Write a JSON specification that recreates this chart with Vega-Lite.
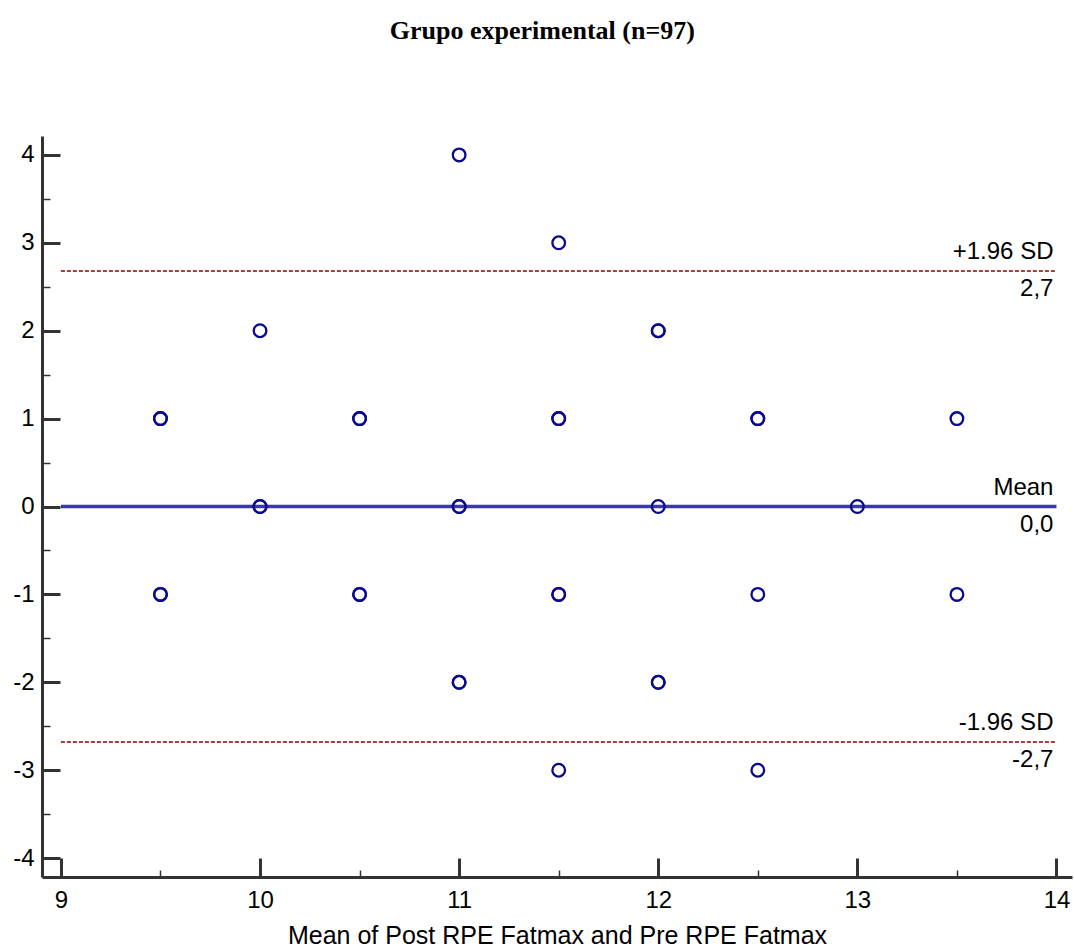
{
  "$schema": "https://vega.github.io/schema/vega-lite/v6.json",
  "width": 1030,
  "height": 741,
  "autosize": {"type": "none"},
  "padding": {"left": 42, "top": 136, "right": 2, "bottom": 72},
  "title": {
    "text": "Grupo experimental (n=97)",
    "font": "Liberation Serif",
    "fontSize": 26,
    "fontWeight": "bold",
    "color": "#000000",
    "anchor": "middle",
    "frame": "bounds",
    "offset": 92
  },
  "config": {
    "view": {"stroke": null},
    "font": "Liberation Sans",
    "axis": {"grid": false, "labelFont": "Liberation Sans", "titleFont": "Liberation Sans", "labelColor": "#000000", "titleColor": "#000000"}
  },
  "datasets": {
    "points": [
      {"m": 11, "d": 4},
      {"m": 11.5, "d": 3},
      {"m": 10, "d": 2}, {"m": 12, "d": 2}, {"m": 12, "d": 2},
      {"m": 9.5, "d": 1}, {"m": 9.5, "d": 1}, {"m": 10.5, "d": 1}, {"m": 10.5, "d": 1},
      {"m": 11.5, "d": 1}, {"m": 11.5, "d": 1}, {"m": 12.5, "d": 1}, {"m": 12.5, "d": 1}, {"m": 13.5, "d": 1},
      {"m": 10, "d": 0}, {"m": 10, "d": 0}, {"m": 11, "d": 0}, {"m": 11, "d": 0}, {"m": 12, "d": 0}, {"m": 13, "d": 0},
      {"m": 9.5, "d": -1}, {"m": 9.5, "d": -1}, {"m": 10.5, "d": -1}, {"m": 10.5, "d": -1},
      {"m": 11.5, "d": -1}, {"m": 11.5, "d": -1}, {"m": 12.5, "d": -1}, {"m": 13.5, "d": -1},
      {"m": 11, "d": -2}, {"m": 11, "d": -2}, {"m": 12, "d": -2}, {"m": 12, "d": -2},
      {"m": 11.5, "d": -3}, {"m": 12.5, "d": -3}
    ],
    "lines": [
      {"type": "mean", "x1": 9, "x2": 14, "y": 0, "label": "Mean", "value": "0,0"},
      {"type": "sd", "x1": 9, "x2": 14, "y": 2.68, "label": "+1.96 SD", "value": "2,7"},
      {"type": "sd", "x1": 9, "x2": 14, "y": -2.68, "label": "-1.96 SD", "value": "-2,7"}
    ]
  },
  "layer": [
    {
      "data": {"name": "lines"},
      "transform": [{"filter": "datum.type === 'sd'"}],
      "mark": {"type": "rule", "color": "#8B0000", "strokeWidth": 1.5, "strokeDash": [4, 2]},
      "encoding": {
        "x": {"field": "x1", "type": "quantitative", "scale": {"domain": [8.905, 14.078], "nice": false, "zero": false},
          "axis": {"orient": "top", "offset": -741, "values": [9.5, 10.5, 11.5, 12.5, 13.5], "tickSize": 7, "tickWidth": 1.5, "tickColor": "#333333", "labels": false, "domain": false, "title": null}},
        "x2": {"field": "x2"},
        "y": {"field": "y", "type": "quantitative", "scale": {"domain": [-4.215, 4.215], "nice": false, "zero": false},
          "axis": {"orient": "right", "offset": -1030, "values": [-3.5, -2.5, -1.5, -0.5, 0.5, 1.5, 2.5, 3.5], "tickSize": 8, "tickWidth": 1.5, "tickColor": "#333333", "labels": false, "domain": false, "title": null}}
      }
    },
    {
      "data": {"name": "lines"},
      "transform": [{"filter": "datum.type === 'mean'"}],
      "mark": {"type": "rule", "color": "#3A3AA6", "strokeWidth": 3.5},
      "encoding": {
        "x": {"field": "x1", "type": "quantitative", "scale": {"domain": [8.905, 14.078], "nice": false, "zero": false},
          "axis": {"orient": "top", "offset": -741, "values": [9, 10, 11, 12, 13, 14], "tickSize": 19, "tickWidth": 3, "tickColor": "#333333", "labels": false, "domain": false, "title": null}},
        "x2": {"field": "x2"},
        "y": {"field": "y", "type": "quantitative", "scale": {"domain": [-4.215, 4.215], "nice": false, "zero": false},
          "axis": {"orient": "right", "offset": -1030, "values": [-4, -3, -2, -1, 0, 1, 2, 3, 4], "tickSize": 18, "tickWidth": 3, "tickColor": "#333333", "labels": false, "domain": false, "title": null}}
      }
    },
    {
      "data": {"name": "points"},
      "mark": {"type": "point", "shape": "circle", "filled": false, "stroke": "#0A0A8C", "strokeWidth": 2.3, "size": 160, "opacity": 1},
      "encoding": {
        "x": {"field": "m", "type": "quantitative", "scale": {"domain": [8.905, 14.078], "nice": false, "zero": false},
          "axis": {"orient": "bottom", "values": [9, 10, 11, 12, 13, 14], "ticks": false, "domain": true, "domainWidth": 3, "domainColor": "#333333", "labelFontSize": 24, "labelPadding": 11, "title": "Mean of Post RPE Fatmax and Pre RPE Fatmax", "titleFontSize": 25, "titleFontWeight": "normal", "titlePadding": 11}},
        "y": {"field": "d", "type": "quantitative", "scale": {"domain": [-4.215, 4.215], "nice": false, "zero": false},
          "axis": {"orient": "left", "values": [-4, -3, -2, -1, 0, 1, 2, 3, 4], "ticks": false, "domain": true, "domainWidth": 3, "domainColor": "#333333", "labelFontSize": 24, "labelPadding": 8, "title": null,
            "labelExpr": "datum.value < 0 ? '-' + abs(datum.value) : '' + datum.value"}}
      }
    },
    {
      "data": {"name": "lines"},
      "mark": {"type": "text", "align": "right", "baseline": "alphabetic", "dy": -12, "dx": -3, "fontSize": 24, "font": "Liberation Sans", "color": "#000000"},
      "encoding": {
        "x": {"field": "x2", "type": "quantitative", "axis": null},
        "y": {"field": "y", "type": "quantitative", "axis": null},
        "text": {"field": "label"}
      }
    },
    {
      "data": {"name": "lines"},
      "mark": {"type": "text", "align": "right", "baseline": "alphabetic", "dy": 25, "dx": -3, "fontSize": 24, "font": "Liberation Sans", "color": "#000000"},
      "encoding": {
        "x": {"field": "x2", "type": "quantitative", "axis": null},
        "y": {"field": "y", "type": "quantitative", "axis": null},
        "text": {"field": "value"}
      }
    }
  ]
}
